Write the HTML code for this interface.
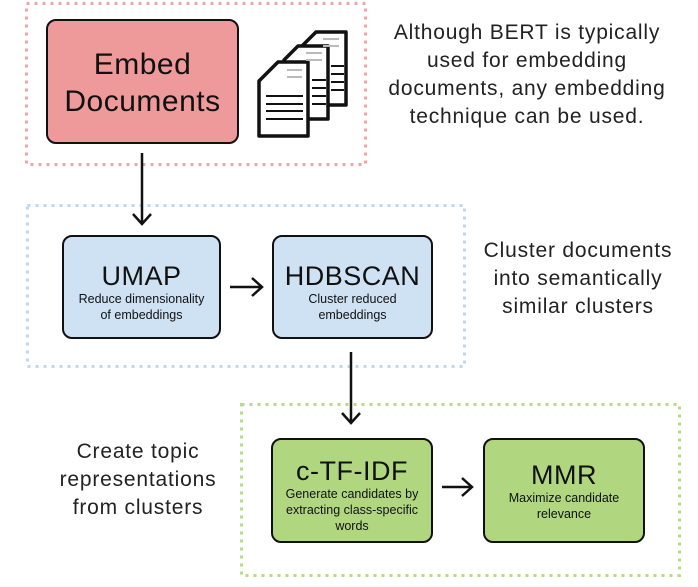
<!DOCTYPE html>
<html><head><meta charset="utf-8"><style>
body{margin:0;width:698px;height:587px;background:#fff;position:relative;overflow:hidden;font-family:"Liberation Sans",sans-serif;color:#111}
.box{position:absolute;box-sizing:border-box;border:2.5px solid #111;border-radius:10px;text-align:center}
.t{position:absolute;text-align:center;font-size:21px;line-height:28px;color:#222;letter-spacing:0.8px}
.big{font-size:27px;line-height:30px;letter-spacing:0.5px}
.sm{font-size:12.5px;line-height:16px}
</style></head><body>
<svg width="698" height="587" style="position:absolute;left:0;top:0" fill="none" stroke-width="3" stroke-dasharray="3 5">
<rect x="26.5" y="3.5" width="339" height="161" stroke="#f2a3a5"/>
<rect x="27.5" y="205.5" width="437" height="161" stroke="#bcd8f0"/>
<rect x="241.5" y="404.5" width="438" height="171" stroke="#b5dc84"/>
</svg>

<div class="box" style="left:46px;top:19px;width:193px;height:125px;background:#ee999a;font-size:30px;line-height:37px;padding-top:25px;letter-spacing:0.5px">Embed<br>Documents</div>
<div class="box" style="left:62px;top:235px;width:159px;height:104px;background:#cfe2f3;padding-top:24px"><div class="big">UMAP</div><div class="sm">Reduce dimensionality<br>of embeddings</div></div>
<div class="box" style="left:272px;top:235px;width:161px;height:104px;background:#cfe2f3;padding-top:24px"><div class="big">HDBSCAN</div><div class="sm">Cluster reduced<br>embeddings</div></div>
<div class="box" style="left:271px;top:438px;width:162px;height:105px;background:#b0d77f;padding-top:16px"><div class="big">c-TF-IDF</div><div class="sm">Generate candidates by<br>extracting class-specific<br>words</div></div>
<div class="box" style="left:483px;top:438px;width:162px;height:105px;background:#b0d77f;padding-top:20px"><div class="big">MMR</div><div class="sm">Maximize candidate<br>relevance</div></div>

<svg width="698" height="587" style="position:absolute;left:0;top:0" fill="none" stroke="#111" stroke-width="2.5">
<path d="M142 153V224M133 214l9 10 9-10"/>
<path d="M351 352V423M342 413l9 10 9-10"/>
<path d="M230 287H262M252 278l10 9-10 9"/>
<path d="M442 487H472M462 478l10 9-10 9"/>
<g stroke-width="3.5" fill="#fff" stroke-linejoin="round">
<path d="M316 32h30v73h-44v-59z"/>
<path d="M298 46h30v73h-44v-59z"/>
<path d="M278 62h30v74h-49v-55z"/>
</g>
<g stroke-width="2">
<path d="M266 96h37M266 104h37M266 111h37M266 119h37"/>
<path d="M287 70h15M287 77h15" stroke="#bbb"/>
<path d="M306 53h16M306 60h16" stroke="#bbb"/>
<path d="M323 39h16M323 46h16" stroke="#bbb"/>
<path d="M312 80h14M312 88h14M312 96h14M312 104h14M331 66h13M331 74h13M331 82h13M331 90h13"/>
</g>
</svg>

<div class="t" style="left:367px;top:19px;width:320px">Although BERT is typically<br>used for embedding<br>documents, any embedding<br>technique can be used.</div>
<div class="t" style="left:463px;top:237px;width:230px">Cluster documents<br>into semantically<br>similar clusters</div>
<div class="t" style="left:23px;top:438px;width:230px">Create topic<br>representations<br>from clusters</div>
</body></html>
